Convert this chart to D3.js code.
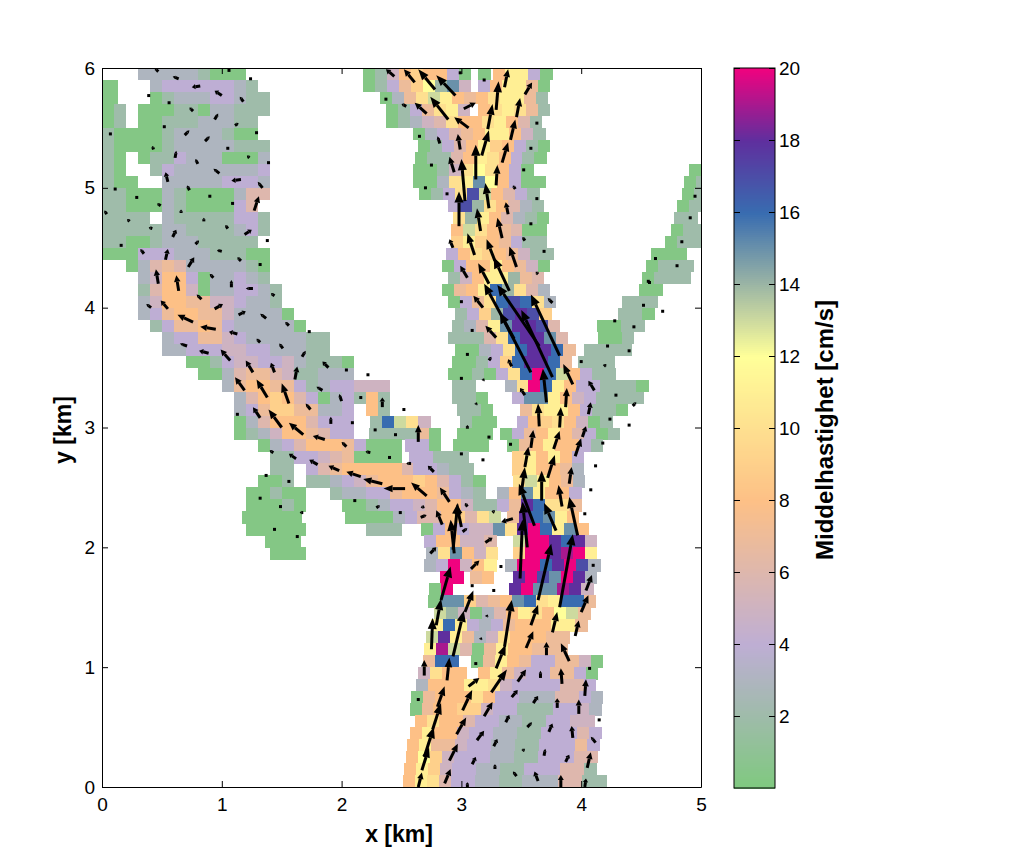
<!DOCTYPE html>
<html><head><meta charset="utf-8">
<script src="https://cdnjs.cloudflare.com/ajax/libs/d3/7.8.5/d3.min.js"></script>
<style>html,body{margin:0;background:#fff}svg{display:block}text{font-family:"Liberation Sans",Arial,sans-serif;fill:#000}</style>
</head><body><div id="chart"></div>
<script>
const levelLetters = "abcdefghijklmnopqrst";
const levelValues = [0.3,2,3,4,5,6,7,8,9,10,11,12,13,14,15,16,17,18,19,20];
const colorStops = [0,4,8,12,16,18,20];
const colorRange = ["#7fc97f","#beaed4","#fdc086","#ffff99","#386cb0","#5f2f9e","#f0027f"];
const xTicks = [0,1,2,3,4,5];
const yTicks = [0,1,2,3,4,5,6];
const barTicks = [2,4,6,8,10,12,14,16,18,20];
const xLabel = "x [km]", yLabel = "y [km]", barLabel = "Middelhastighet [cm/s]";
// speed per grid row, top row first: "startColumn:levels" (0.1 km cells, . = no data)
const speedRows = [
"3:cccccbaaa 21.8:abehihhda 31.4:a 32.6:hkkda",
"0:a 0.3:a 4:cddddddcb 21.8:abdgilnoe 31.4:dhkkga",
"0:a 0.3:a 4:abcccddcbb 23.2:acgjmkhghjkkgb",
"0:ab 3:aaabbaccbbb 23.7:abdgjke 31.4:hjkjgb",
"0:ab 3:aabbbcccbb 23.7:abcefjhhjkhfb",
"0:baaaabccccbaa 26:acdfghkkheb",
"0:baaaabcccccbbb 26.4:abdfhkihdba",
"0:ba.abbdcccaaac 26.1:abbfhkjhdba",
"0:ba 4:bdcccccccd 26:aabejljhda 49:a",
"0:baa 5:cccccdddc 26:aacjkolhdaa 48.6:ab",
"0:bbaaacbaaaacff 26.5:abdjqmhfdb 48.4:ab",
"0:bbaaacbaaaadf 28.9:dqnjhfcb 48:ab",
"0:bbbb.cbbbbbddb 29.3:jnkhfcba 47.75:bb",
"0:bbbbbccbbbbcdb 29.1:hmjhgfaa 47.5:abb",
"0:bbaabcccbbbbb 29.1:ikihgdbb 47:abb",
"0:aaadddcccbbbaa 28.7:dhjihgebb 45.8:aaa",
"2:acfgfcccccba 28.4:adhhkhgea 45.4:abbb",
"3:cehhdaccdcb 28.9:behkkngf 45.1:abbb",
"3:bfhheaccddcb 28.4:aghkpnjfc 44.8:aa",
"3:cehhggeedccb 28.9:adgjpqpjc 43.4:bbb",
"3:cdghhggecccca 29.5:bdinqrqi 43.1:bba",
"4:bdgghgdccccca 29.2:bcfkorrqf 41.3:aabb",
"5:cddggedcccccbb 28.9:bbbfjprrof 41.4:aab",
"5:ccdddeeddcccbb 29.5:aacdjprrpg 40.2:bbbb",
"7:aabdeeddecbbba 29.2:aabdiprrpg 39.75:bbb",
"8:aacfggfebbccc 28.9:aabadjptpmh 39.9:dbb",
"10:cghhggdbcddeee 29.2:bb 33.6:cjtpkh 39.6:ddbbba",
"11:cfhihfdacd 21:bhb 29.2:bba 34.2:dookhe 40.2:dbbbb",
"11:cdgiiggccd 22:hb 29.6:bba 34.9:gjkkh 39.9:dbba",
"11:acfhhhfddd 22.4:bpmje 29.9:baa 34.6:dhijhe 40.6:ab",
"11:abcehhgfdd 22.3:bbbbga 29.6:aaa 33.2:adghkhfd 41.2:ab",
"13:acdfhhhgdaaa 25.3:dda 29.3:aaa 33.8:aghkhhd 40.8:b",
"14:bbddefgaaaa 25.6:ddbbb 34.2:ikhkhd",
"14:bb 17:dfghhhhhfddcbb 34.2:ikhhgc",
"13:aab 17:bbcdeghhhihfdba 34.3:jmkhgc",
"12:aabaa 19:bccddghhhgdcb 33:chokhhd",
"12:aaaba 20:aabcddefhhebb 33:dgrpjjg",
"11.7:aaaaa 20.3:aaaacdffhifjm 33.8:grpokh",
"12:aaaaa 22:bbb 26.6:adhdeeojrtpkoh",
"13.6:aaa 26.9:dhheef 34.3:mttrpre",
"14:aaa 27.05:cjohej 34.3:ittrstk",
"26.9:cdtehk 33.6:cttprtqc",
"28.2:tt 30.7:gh 34.3:rtqotrc",
"27.3:at 34:rtoosre",
"27.2:aooifghopjkppg",
"27.75:mneacfhkjhlmg",
"27.5:kpkdcdghhhkkg",
"27.05:mrkgcejhhhgg",
"26.9:ksmfagkhhggg",
"26.8:gpp.agkhgddggea",
"26.4:ejhh.hkgeddggda",
"26.2:chhhkkjeddddffd",
"25.8:aghhhjhddcccffdc",
"25.67:aghhiieddbbbddec",
"26.1:hjhhfddccbbddee",
"25.67:hkhheddccbbdddfd",
"25.5:hkggeddccbbdddgd",
"25.4:hliedddccbbdddff",
"25.25:hkieddccbbdddffb",
"25.1:hkjfddccbbcccffbb"
];
// current vectors: x, y, u, v in km on the plot
const arrowsNorthwest = [
[.47,5.97,-.03,.03],[.64,5.91,-.05,.02],[.82,5.85,-.07,-.01],[1,5.77,-.06,.04],[1.18,5.72,-.03,.04],[.76,5.64,-.03,.03],[.94,5.57,.03,.05],[.69,5.44,.04,.04],[.86,5.39,.04,.04],[1.11,5.52,.03,.02],[.43,5.32,-.01,.03],[.61,5.25,.01,.06],[.8,5.2,-.02,.04],[.98,5.12,-.05,.04],[1.23,5.25,-.02,.02],[.55,5.05,-.02,.08],[.73,4.98,-.02,.04],[1.16,5.07,-.08,-.01],[1.34,5,-.04,.05],[1.27,4.81,.04,.12],[.49,4.85,-.03,.02],[.04,4.78,-.02,.03],[.23,4.72,-.02,.02],[.66,4.79,0,.03],[.85,4.72,0,.03],[1.05,4.66,-.02,.03],[.42,4.66,-.03,.01],[.59,4.59,.03,.06],[1.19,4.61,.06,.04],[.78,4.53,.03,.03],[.35,4.45,-.03,.04],[.53,4.4,.02,.09],[1,4.47,-.04,.01],[1.16,4.39,-.03,.03],[.72,4.34,.05,.08],[.47,4.2,-.02,.12],[.64,4.14,-.02,.13],[.93,4.25,-.03,.03],[1.08,4.17,0,.06],[1.26,4.16,-.06,0],[.83,4.07,-.04,.04],[1.44,4.1,-.03,.02],[.55,3.99,-.06,.07],[.94,3.99,.07,.04],[.41,4,-.04,.03]
];
const arrowsBand = [
[.76,3.88,-.13,.06],[.95,3.82,-.13,.02],[1.14,3.94,.06,.03],[1.37,3.91,-.05,.04],[1.56,3.85,-.03,.03],[1.13,3.78,-.07,.02],[1.32,3.71,-.03,.03],[.71,3.68,-.06,.02],[.89,3.62,-.08,.02],[1.07,3.56,-.08,.09],[1.51,3.66,-.03,.04],[1.67,3.59,.03,.05],[1.26,3.46,-.06,.1],[1.44,3.46,-.03,.08],[1.61,3.4,.02,.11],[1.89,3.5,-.05,.05],[1.19,3.31,-.08,.11],[1.38,3.25,-.09,.15],[1.56,3.2,-.06,.17],[1.84,3.31,-.05,.03],[2,3.22,-.02,.06],[1.74,3.15,-.04,.05],[1.32,3.08,-.06,.09],[1.5,3,-.11,.15],[1.68,2.94,-.12,.1],[1.91,3.03,0,.06],[1.86,2.9,-.1,.03],[2.04,2.84,-.04,.04],[2.34,3.17,0,.08],[2.64,2.88,0,.14],[1.43,2.79,-.03,.02],[1.62,2.74,-.06,.04],[1.8,2.69,-.07,.04],[1.98,2.64,-.09,.04],[2.16,2.59,-.12,.04],[2.34,2.53,-.16,.04],[2.53,2.49,-.18,0],[2.71,2.43,-.13,.11],[2.9,2.38,-.08,.12],[2.84,2.19,-.05,.12],[2.24,2.79,-.04,.01],[2.58,2.7,-.04,0],[2.77,2.63,-.05,.05],[1.68,2.29,-.03,0],[2.29,2.33,.03,.02],[2.66,2.25,.05,.02],[2.74,1.95,.05,.05]
];
const arrowsNorth = [
[2.44,5.93,-.07,.06],[2.61,5.88,-.09,.11],[2.78,5.82,-.14,.17],[2.95,5.77,-.16,.17],[3.36,5.84,.03,.15],[3.29,5.65,.02,.24],[3.53,5.78,.06,.1],[2.54,5.68,-.04,.02],[2.71,5.62,-.1,.09],[2.89,5.57,-.15,.19],[3.06,5.5,-.12,.09],[3.02,5.66,.1,.05],[3.22,5.49,.04,.21],[3.46,5.59,.03,.16],[3.41,5.4,.04,.17],[3.17,5.27,.06,.21],[2.82,5.37,-.02,.06],[2.99,5.32,-.02,.13],[3.12,5.07,0,.29],[3.34,5.21,.05,.17],[2.94,5.13,-.04,.13],[3.03,4.89,-.03,.35],[3.29,5.02,.01,.17],[3.23,4.83,-.03,.21],[2.98,4.68,0,.29],[3.39,4.78,-.02,.1],[3.16,4.64,-.03,.19],[3.34,4.58,-.04,.17],[3.11,4.44,-.06,.18],[2.93,4.5,-.03,.07],[3.28,4.39,-.07,.18],[3.46,4.34,-.06,.17],[3.05,4.25,-.06,.1],[3.23,4.2,-.09,.17],[3.4,4.14,-.13,.28],[3.18,4,-.08,.1],[3.76,4.04,-.04,.04],[3.53,4.56,-.02,.03],[3.45,4.99,-.02,.03],[3.64,4.28,-.02,.02],
[3.44,3.74,-.25,.46],[3.65,3.68,-.35,.51],[3.82,3.6,-.24,.51],[3.29,3.75,-.09,.1],[3.58,3.46,-.26,.5],[3.76,3.42,-.26,.56],[3.93,3.36,-.08,.17],[3.53,3.27,-.04,.06],[3.42,3.51,-.03,.06],[3.71,3.21,-.03,.28],[3.87,3.17,.01,.16],[4.06,3.11,.02,.1],[4.11,3.31,-.05,.08],[3.65,3.01,-.01,.19],[3.82,3,.01,.17],[4.01,2.92,.03,.09],[3.58,2.83,.02,.15],[3.77,2.82,.05,.15],[3.72,2.58,.06,.19],[3.95,2.76,.05,.15],[3.53,2.67,.03,.17],[3.5,2.45,.03,.22],[3.67,2.39,0,.25],[3.9,2.53,.02,.14],[3.84,2.34,-.03,.18],[3.61,2.18,-.13,.35],[3.79,2.14,-.1,.23],[3.97,2.1,-.07,.32],[3.43,2.24,-.1,-.03],[3.05,2.34,-.02,.03],[3.26,2.29,.02,.02],[2.69,2.34,-.03,-.01],[3.01,2.13,.04,.03],[3.2,2.04,.06,.04],[3.23,3.56,.02,.03],[3.18,3.39,.01,.02],[3.12,3.19,.01,.02],[3.05,2.99,0,.03],[4.19,3.51,.02,.02],[4.43,3.18,.03,.03]
];
const arrowsSouth = [
[2.93,1.98,.04,.39],[2.94,1.95,-.03,.28],[3,2.17,-.04,.19],[3.08,1.82,.07,.07],[2.83,1.56,.08,.28],[2.79,1.35,.04,.22],[2.75,1.15,.01,.26],[2.93,1.09,.09,.38],[3.03,1.46,.07,.18],[2.88,.89,.02,.19],[2.69,.93,0,.13],[3.21,1.42,.01,.02],[3.16,1.23,.01,.02],[3.29,.99,.08,.2],[3.36,1.17,.06,.39],[3.54,1.16,.06,.14],[3.58,1.35,.06,.17],[3.64,1.56,.11,.47],[3.76,1.29,.04,.17],[3.82,1.5,.11,.61],[3.71,1.1,0,.11],[3.9,1.05,-.07,.15],[3.95,1.26,.03,.13],[4,1.46,.06,.14],[4.04,1.64,.05,.13],[3.47,.88,.07,.1],[3.25,.79,.13,.19],[3.66,.91,0,.06],[3.84,.86,-.01,.13],[4.03,.76,.01,.14],[3.06,.84,.09,.07],[3.01,.64,.08,.17],[2.64,0,.03,.12],[2.67,.14,.06,.19],[2.69,.25,.08,.25],[2.76,.48,.07,.22],[2.8,.67,.06,.17],[2.86,.03,.05,.12],[2.9,.22,.07,.14],[2.96,.44,.08,.14],[3.19,.59,.07,.12],[3.42,.75,.05,.06],[3.6,.7,.04,.06],[3.8,.66,0,.08],[3.98,.61,0,.12],[3.37,.54,.03,.06],[3.55,.5,.04,.04],[3.73,.46,.03,.07],[3.93,.41,-.01,.1],[3.13,.39,.06,.08],[3.27,.34,.03,.06],[3.51,.3,.02,.02],[3.69,.26,.01,.06],[3.87,.21,.03,.06],[4.05,.16,.03,.13],[4.12,.37,-.04,.05],[3.09,.19,.03,.06],[3.28,.15,0,.04],[3.46,.09,-.03,.04],[3.64,.05,-.03,.08],[3.83,0,0,.1],[4.03,0,.01,.07],[3.05,0,0,.04],[3.55,2,-.04,.38],[3.49,1.74,.02,.49]
];
// near-zero vectors, drawn as dots: x, y in km
const stillPoints = [
[.39,5.77],[.56,5.71],[.52,5.51],[.07,5.45],[1.05,5.33],[.11,4.99],[.29,4.92],[.9,4.93],[1.09,4.87],[.16,4.52],[1.32,4.36],[1.29,5.46],[1.39,5.21],[1.38,4.56],[1.06,5.98],[1.24,5.91],
[2.16,3.25],[1.32,2.41],[1.56,2.55],[1.49,2.34],[2.11,2.39],[2.4,2.75],[2.49,2.29],[1.44,2.15],[1.63,2.09],[1.37,2.6],[1.73,3.8],[2.04,3.48],[2.22,3.44],[2.52,3.15],[2.09,3.04],[2.28,2.98],[2.45,2.94],[1.13,3.11],
[2.37,5.74],[2.65,5.43],[2.75,5.19],[2.7,5],[2.88,4.95],[2.99,5.96],[3.19,5.9],[3.63,5.54],[3.58,5.33],[3.52,5.15],[3.63,4.91],[3.58,4.7],[3.69,4.47],[3,4.05],[4.95,4.93],[4.91,4.75],[4.84,4.55],[4.62,4.41],[4.8,4.35],[4.56,4.22],[4.52,4.02],
[3.09,3.81],[3.05,3.61],[3,3.41],[3.23,2.92],[3,2.78],[3.41,2.86],[3.18,2.73],[4,3.55],[4.22,3.68],[4.44,3.84],[4.68,3.97],[4.4,3.64],[4.28,3.89],[4.29,3.27],[4.24,3.07],[4.4,3.02],[4.18,2.87],[4.12,2.68],[4.08,2.48],[4.03,2.28],[4.57,4.21],
[3.33,1.84],[3.09,1.68],[3.27,1.64],[3.12,1.03],[2.64,.73],[4.1,1.85],[4.07,.99],[4.15,.56]
];

const W = 1024, H = 851;
const svg = d3.select("#chart").append("svg").attr("width", W).attr("height", H);
const x = d3.scaleLinear().domain([0, 5]).range([102, 701]);
const y = d3.scaleLinear().domain([0, 6]).range([787, 68]);
const color = d3.scaleLinear().domain(colorStops).range(colorRange).clamp(true);
const cellKm = 0.1;

const cells = [];
speedRows.forEach((line, r) => line.split(" ").forEach(seg => {
  const [start, letters] = seg.split(":");
  [...letters].forEach((ch, i) => {
    if (ch !== ".") cells.push({col: +start + i, row: r, v: levelValues[levelLetters.indexOf(ch)]});
  });
}));

svg.append("clipPath").attr("id", "plot").append("rect")
  .attr("x", x(0)).attr("y", y(6)).attr("width", x(5) - x(0)).attr("height", y(0) - y(6));
const plot = svg.append("g").attr("clip-path", "url(#plot)");
plot.append("g").selectAll("rect").data(cells).join("rect")
  .attr("x", d => x(d.col * cellKm))
  .attr("y", d => y(6 - d.row * cellKm))
  .attr("width", x(cellKm) - x(0) + 0.4)
  .attr("height", y(0) - y(cellKm) + 0.4)
  .attr("fill", d => color(d.v))
  .attr("shape-rendering", "crispEdges");

const arrows = [...arrowsNorthwest, ...arrowsBand, ...arrowsNorth, ...arrowsSouth];
const arrowG = plot.append("g");
arrows.forEach(([ax, ay, u, v]) => {
  const x0 = x(ax), y0 = y(ay), x1 = x(ax + u), y1 = y(ay + v);
  const len = Math.hypot(x1 - x0, y1 - y0);
  const ux = (x1 - x0) / len, uy = (y1 - y0) / len;
  const headL = Math.min(11, Math.max(2, len * 0.42));
  const headW = len < 8 ? 1.8 : Math.min(4.6, 2 + len * 0.08);
  const bx = x1 - ux * headL, by = y1 - uy * headL;
  arrowG.append("line").attr("x1", x0).attr("y1", y0).attr("x2", bx).attr("y2", by)
    .attr("stroke", "#000").attr("stroke-width", 3);
  const p = d3.path();
  p.moveTo(x1, y1);
  p.lineTo(bx - uy * headW, by + ux * headW);
  p.lineTo(bx + uy * headW, by - ux * headW);
  p.closePath();
  arrowG.append("path").attr("d", p.toString()).attr("fill", "#000");
});
arrowG.selectAll("rect").data(stillPoints).join("rect")
  .attr("x", d => x(d[0]) - 1.5).attr("y", d => y(d[1]) - 1.5)
  .attr("width", 3).attr("height", 3).attr("fill", "#000");

function styleAxis(g) {
  g.selectAll(".domain").attr("stroke", "#000").attr("stroke-width", 1);
  g.selectAll(".tick line").attr("stroke", "#000");
  g.selectAll("text").attr("font-size", 19).attr("font-family", '"Liberation Sans",Arial,sans-serif').attr("fill", "#000");
}
const tick = 6;
svg.append("g").attr("transform", `translate(0,${y(0)})`)
  .call(d3.axisBottom(x).tickValues(xTicks).tickSizeInner(-tick).tickSizeOuter(0).tickPadding(11).tickFormat(d3.format("d"))).call(styleAxis);
svg.append("g").attr("transform", `translate(0,${y(6)})`)
  .call(d3.axisTop(x).tickValues(xTicks).tickSizeInner(-tick).tickSizeOuter(0).tickFormat("")).call(styleAxis);
svg.append("g").attr("transform", `translate(${x(0)},0)`)
  .call(d3.axisLeft(y).tickValues(yTicks).tickSizeInner(-tick).tickSizeOuter(0).tickPadding(7).tickFormat(d3.format("d"))).call(styleAxis);
svg.append("g").attr("transform", `translate(${x(5)},0)`)
  .call(d3.axisRight(y).tickValues(yTicks).tickSizeInner(-tick).tickSizeOuter(0).tickFormat("")).call(styleAxis);

svg.append("text").attr("x", 399).attr("y", 842).attr("text-anchor", "middle")
  .attr("font-size", 23).attr("font-weight", "bold").text(xLabel);
svg.append("text").attr("transform", "translate(71,430) rotate(-90)").attr("text-anchor", "middle")
  .attr("font-size", 23).attr("font-weight", "bold").text(yLabel);

// colour bar
const barY = d3.scaleLinear().domain([0, 20]).range([788, 68]);
const barX0 = 734, barX1 = 775;
const barLevels = d3.range(0, 360).map(i => (i + 0.5) * 20 / 360);
svg.append("g").selectAll("rect").data(barLevels).join("rect")
  .attr("x", barX0).attr("width", barX1 - barX0)
  .attr("y", d => barY(d + 10 / 360)).attr("height", barY(0) - barY(20 / 360) + 0.5)
  .attr("fill", d => color(d)).attr("shape-rendering", "crispEdges");
svg.append("rect").attr("x", barX0).attr("y", barY(20)).attr("width", barX1 - barX0).attr("height", barY(0) - barY(20))
  .attr("fill", "none").attr("stroke", "#000");
svg.append("g").attr("transform", `translate(${barX1},0)`)
  .call(d3.axisRight(barY).tickValues(barTicks).tickSizeInner(-tick).tickSizeOuter(0).tickPadding(4).tickFormat(d3.format("d"))).call(styleAxis)
  .select(".domain").remove();
svg.append("g").attr("transform", `translate(${barX0},0)`)
  .call(d3.axisLeft(barY).tickValues(barTicks).tickSizeInner(-tick).tickSizeOuter(0).tickFormat("")).call(styleAxis)
  .select(".domain").remove();
svg.append("text").attr("transform", "translate(833,430) rotate(-90)").attr("text-anchor", "middle")
  .attr("font-size", 24).attr("font-weight", "bold").text(barLabel);
</script></body></html>
